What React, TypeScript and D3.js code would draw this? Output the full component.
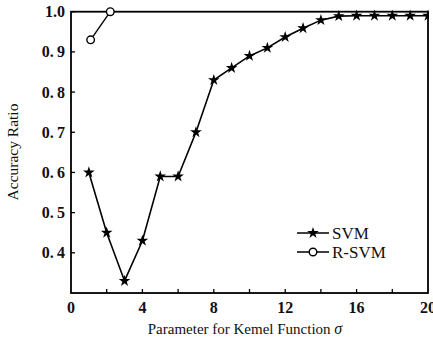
import React from "react";
import * as d3 from "d3";

const svmX = [1, 2, 3, 4, 5, 6, 7, 8, 9, 10, 11, 12, 13, 14, 15, 16, 17, 18, 19, 20];
const svmY = [0.6, 0.45, 0.33, 0.43, 0.59, 0.59, 0.7, 0.83, 0.86, 0.89, 0.91, 0.937, 0.959, 0.979, 0.989, 0.99, 0.99, 0.99, 0.99, 0.99];
const rsvmX = [1.1, 2.2];
const rsvmY = [0.93, 1.0];
const xTicks = [2, 4, 6, 8, 10, 12, 14, 16, 18];
const xLabels = [0, 4, 8, 12, 16, 20];
const yTicks = [0.4, 0.5, 0.6, 0.7, 0.8, 0.9, 1.0];
const legendLabels = ["SVM", "R-SVM"];

const W = 433, H = 346;
const L = 71, R = 428, T = 11.7, B = 293;

export default function App() {
  const x = d3.scaleLinear().domain([0, 20]).range([L, R]);
  const y = d3.scaleLinear().domain([0.3, 1.0]).range([B, T]);
  const line = d3.line<[number, number]>().x(d => x(d[0])).y(d => y(d[1]));
  const svmPts: [number, number][] = svmX.map((v, i) => [v, svmY[i]]);
  const rsvmPts: [number, number][] = rsvmX.map((v, i) => [v, rsvmY[i]]);
  const star = d3.symbol().type(d3.symbolStar).size(42)() as string;
  const fmtY = (v: number) => v === 1 ? "1.0" : v.toFixed(1).replace(".", ".\u2009");
  const font = "'Liberation Serif', 'DejaVu Serif', serif";
  return (
    <svg width={W} height={H} style={{ position: "absolute", left: 0, top: 0, background: "#fff" }} fontFamily={font}>
      <defs>
        <clipPath id="clip">
          <rect x={L} y={T - 6} width={R - L + 1} height={B - T + 6} />
        </clipPath>
      </defs>
      <rect x={L} y={T} width={R - L} height={B - T} fill="none" stroke="#000" strokeWidth={1.8} />
      {xTicks.map(t => (
        <line key={"xt" + t} x1={x(t)} x2={x(t)} y1={B} y2={B - 4} stroke="#000" strokeWidth={1.3} />
      ))}
      {yTicks.map(t => (
        <line key={"yt" + t} x1={L} x2={L + 4} y1={y(t)} y2={y(t)} stroke="#000" strokeWidth={1.3} />
      ))}
      {xLabels.map(t => (
        <text key={"xl" + t} x={x(t)} y={313} textAnchor="middle" fontSize={16} fontWeight="bold" fill="#111">{t}</text>
      ))}
      {yTicks.map(t => (
        <text key={"yl" + t} x={65} y={y(t) + 5.5} textAnchor="end" fontSize={16} fontWeight="bold" fill="#111">{fmtY(t)}</text>
      ))}
      <text x={245} y={334} textAnchor="middle" fontSize={15} fill="#111">
        Parameter for Kemel Function <tspan fontStyle="italic" fontSize={16}>σ</tspan>
      </text>
      <text transform={`translate(18,152) rotate(-90)`} textAnchor="middle" fontSize={15.5} fill="#111">Accuracy Ratio</text>
      <g clipPath="url(#clip)">
        <path d={line(svmPts) as string} fill="none" stroke="#000" strokeWidth={1.6} />
        {svmPts.map((p, i) => (
          <path key={"s" + i} d={star} transform={`translate(${x(p[0])},${y(p[1])})`} fill="#000" />
        ))}
        <path d={line(rsvmPts) as string} fill="none" stroke="#000" strokeWidth={1.4} />
        {rsvmPts.map((p, i) => (
          <circle key={"r" + i} cx={x(p[0])} cy={y(p[1])} r={3.8} fill="#fff" stroke="#000" strokeWidth={1.4} />
        ))}
      </g>
      <g>
        <line x1={297} x2={329} y1={233} y2={233} stroke="#000" strokeWidth={1.5} />
        <path d={star} transform="translate(313,233)" fill="#000" />
        <text x={332} y={239} fontSize={17} fill="#111">{legendLabels[0]}</text>
        <line x1={297} x2={329} y1={252} y2={252} stroke="#000" strokeWidth={1.5} />
        <circle cx={313} cy={252} r={3.8} fill="#fff" stroke="#000" strokeWidth={1.4} />
        <text x={332} y={258} fontSize={17} fill="#111">{legendLabels[1]}</text>
      </g>
    </svg>
  );
}
